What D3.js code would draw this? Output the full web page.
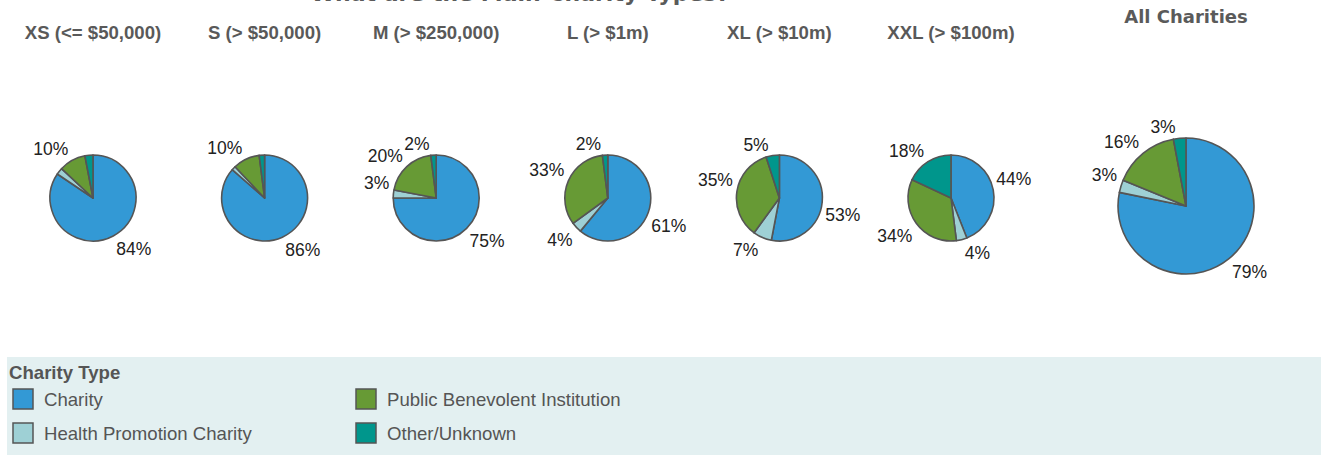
<!DOCTYPE html>
<html><head><meta charset="utf-8">
<script src="https://cdn.jsdelivr.net/npm/d3@7"></script>
<style>body{margin:0;background:#fff;} svg{display:block;}</style>
</head><body><svg id="c" width="1321" height="455"></svg>
<script>
const title = "What are the Main Charity Types?";
const segments = ["XS (<= $50,000)","S (> $50,000)","M (> $250,000)","L (> $1m)","XL (> $10m)","XXL (> $100m)"];
const types = ["Charity","Health Promotion Charity","Public Benevolent Institution","Other/Unknown"];
const typeColors = ["#3399d5","#9ed0d5","#679a35","#00968c"];
const charity          = [84, 86, 75, 61, 53, 44];
const healthPromotion  = [2.5, 1.5, 3, 4, 7, 4];
const publicBenevolent = [10, 10, 20, 33, 35, 34];
const otherUnknown     = [3, 2, 2, 2, 5, 18];
const smallLabelsShown = [false, false, true, true, true, true];
const allTitle = "All Charities";
const allValues = [79, 3, 16, 3];
const legendTitle = "Charity Type";

const svg = d3.select("#c");
const color = d3.scaleOrdinal().domain(types).range(typeColors);
const xSeg = d3.scalePoint().domain(segments).range([93, 951]);
const pieCY = 198, segR = 43;
const allCX = 1186, allCY = 206, allR = 68;

svg.append("text").attr("x", 520).attr("y", 1).attr("text-anchor","middle")
  .attr("font-family","DejaVu Sans").attr("font-weight","bold").attr("font-size",22)
  .attr("fill","#5a5a5a").text(title);

const pie = d3.pie().sort(null).value(d => d.v);

function drawPie(cx, cy, r, rows) {
  const g = svg.append("g").attr("transform", `translate(${cx},${cy})`);
  const arcs = pie(rows);
  const arc = d3.arc().innerRadius(0).outerRadius(r);
  g.selectAll("path").data(arcs).join("path")
    .attr("d", arc).attr("fill", d => color(d.data.t))
    .attr("stroke","#555").attr("stroke-width",1.6).attr("stroke-linejoin","round");
  arcs.filter(d => d.data.show).forEach(d => {
    const a = (d.startAngle + d.endAngle) / 2;
    const s = Math.sin(a), c = Math.cos(a);
    const px = r * s, py = -r * c;
    const right = s >= 0, top = c >= 0;
    g.append("text")
      .attr("x", px + (right ? 3 : -4))
      .attr("y", top ? py - 5 : py + 19)
      .attr("text-anchor", right ? "start" : "end")
      .attr("font-family","Liberation Sans, Arial, sans-serif").attr("font-size",17.5)
      .attr("fill","#222").text(Math.round(d.data.v) + "%");
  });
}

segments.forEach((seg, i) => {
  const vals = [charity[i], healthPromotion[i], publicBenevolent[i], otherUnknown[i]];
  const rows = types.map((t, k) => ({t, v: vals[k], show: (k === 0 || k === 2) ? true : smallLabelsShown[i]}));
  svg.append("text").attr("x", xSeg(seg)).attr("y", 39).attr("text-anchor","middle")
    .attr("font-family","Liberation Sans, Arial, sans-serif").attr("font-weight","bold")
    .attr("font-size",18.6).attr("fill","#595959").text(seg);
  drawPie(xSeg(seg), pieCY, segR, rows);
});

svg.append("text").attr("x", allCX).attr("y", 23).attr("text-anchor","middle")
  .attr("font-family","DejaVu Sans").attr("font-weight","bold").attr("font-size",18)
  .attr("fill","#5a5a5a").text(allTitle);
drawPie(allCX, allCY, allR, types.map((t, k) => ({t, v: allValues[k], show: true})));

// legend
const lg = svg.append("g");
lg.append("rect").attr("x",7).attr("y",357).attr("width",1314).attr("height",98).attr("fill","#e3f0f1");
lg.append("text").attr("x",9).attr("y",379)
  .attr("font-family","Liberation Sans, Arial, sans-serif").attr("font-weight","bold")
  .attr("font-size",18.6).attr("fill","#555").text(legendTitle);
const legendOrder = [types[0], types[2], types[1], types[3]];
legendOrder.forEach((t, i) => {
  const col = i % 2, row = Math.floor(i / 2);
  const x = col === 0 ? 13 : 356, y = 389 + row * 34;
  lg.append("rect").attr("x", x).attr("y", y).attr("width",20).attr("height",20)
    .attr("fill", color(t)).attr("stroke","#555").attr("stroke-width",1.5);
  lg.append("text").attr("x", x + 31).attr("y", y + 17)
    .attr("font-family","Liberation Sans, Arial, sans-serif").attr("font-size",18.6)
    .attr("fill","#555").text(t);
});
</script></body></html>
